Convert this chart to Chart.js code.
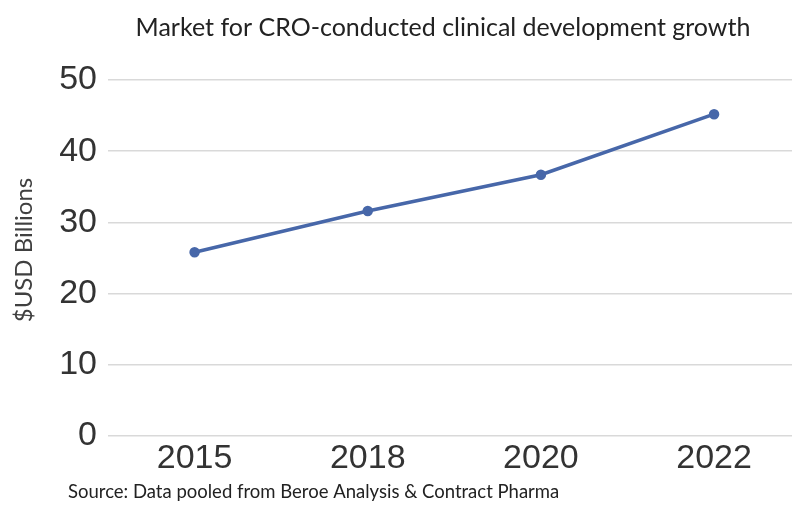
<!DOCTYPE html>
<html>
<head>
<meta charset="utf-8">
<script src="https://cdn.jsdelivr.net/npm/chart.js@4/dist/chart.umd.min.js"></script>
<style>
  html, body { margin: 0; padding: 0; background: #fff; }
  #wrap { width: 792px; height: 508px; }
</style>
</head>
<body>
<div id="wrap"><canvas id="chart" width="792" height="508"></canvas></div>
<script>
// data
const years = ['2015', '2018', '2020', '2022'];
const marketSize = [25.8, 31.6, 36.7, 45.2];
const yTicks = [0, 10, 20, 30, 40, 50];

const titleText = 'Market for CRO-conducted clinical development growth';
const yTitleText = '$USD Billions';
const sourceText = 'Source: Data pooled from Beroe Analysis & Contract Pharma';

// heading, axis name and source note drawn straight onto the canvas
const textPlugin = {
    id: 'texts',
    afterDraw(chart) {
        const ctx = chart.ctx;
        ctx.save();
        ctx.fillStyle = '#222';
        ctx.textBaseline = 'middle';
        ctx.textAlign = 'center';
        ctx.font = '25px Lato';
        ctx.fillText(titleText, 443, 28);

        ctx.save();
        ctx.fillStyle = '#404040';
        ctx.translate(24, 250);
        ctx.rotate(-Math.PI / 2);
        ctx.font = '24px Lato';
        ctx.fillText(yTitleText, 0, 0);
        ctx.restore();

        ctx.textAlign = 'left';
        ctx.font = '18.5px Lato';
        ctx.fillText(sourceText, 68, 492);
        ctx.restore();
    }
};

new Chart(document.getElementById('chart'), {
    type: 'line',
    data: {
        datasets: [{
            data: marketSize.map((v, i) => ({ x: i, y: v })),
            borderColor: '#4767a9',
            backgroundColor: '#4767a9',
            borderWidth: 3.5,
            pointRadius: 3.5,
            pointHoverRadius: 3.5,
            tension: 0
        }]
    },
    plugins: [textPlugin],
    options: {
        responsive: false,
        animation: false,
        layout: { autoPadding: false, padding: { top: 80, right: 0, bottom: 0, left: 0 } },
        plugins: {
            legend: { display: false },
            tooltip: { enabled: false }
        },
        scales: {
            x: {
                type: 'linear',
                min: -0.5,
                max: 3.45,
                afterBuildTicks: (scale) => { scale.ticks = years.map((y, i) => ({ value: i })); },
                afterFit: (scale) => { scale.height = 72; },
                grid: { display: false },
                border: { display: false },
                ticks: {
                    callback: (v) => years[v],
                    font: { family: 'Liberation Sans', size: 34 },
                    color: '#333',
                    padding: -6,
                    maxRotation: 0
                }
            },
            y: {
                min: 0,
                max: 50,
                afterBuildTicks: (scale) => { scale.ticks = yTicks.map(v => ({ value: v })); },
                afterFit: (scale) => { scale.width = 108; },
                grid: { color: '#d9d9d9', lineWidth: 1.5, drawTicks: false },
                border: { display: false },
                ticks: {
                    font: { family: 'Liberation Sans', size: 34 },
                    color: '#333',
                    padding: 11
                }
            }
        }
    }
});
</script>
</body>
</html>
